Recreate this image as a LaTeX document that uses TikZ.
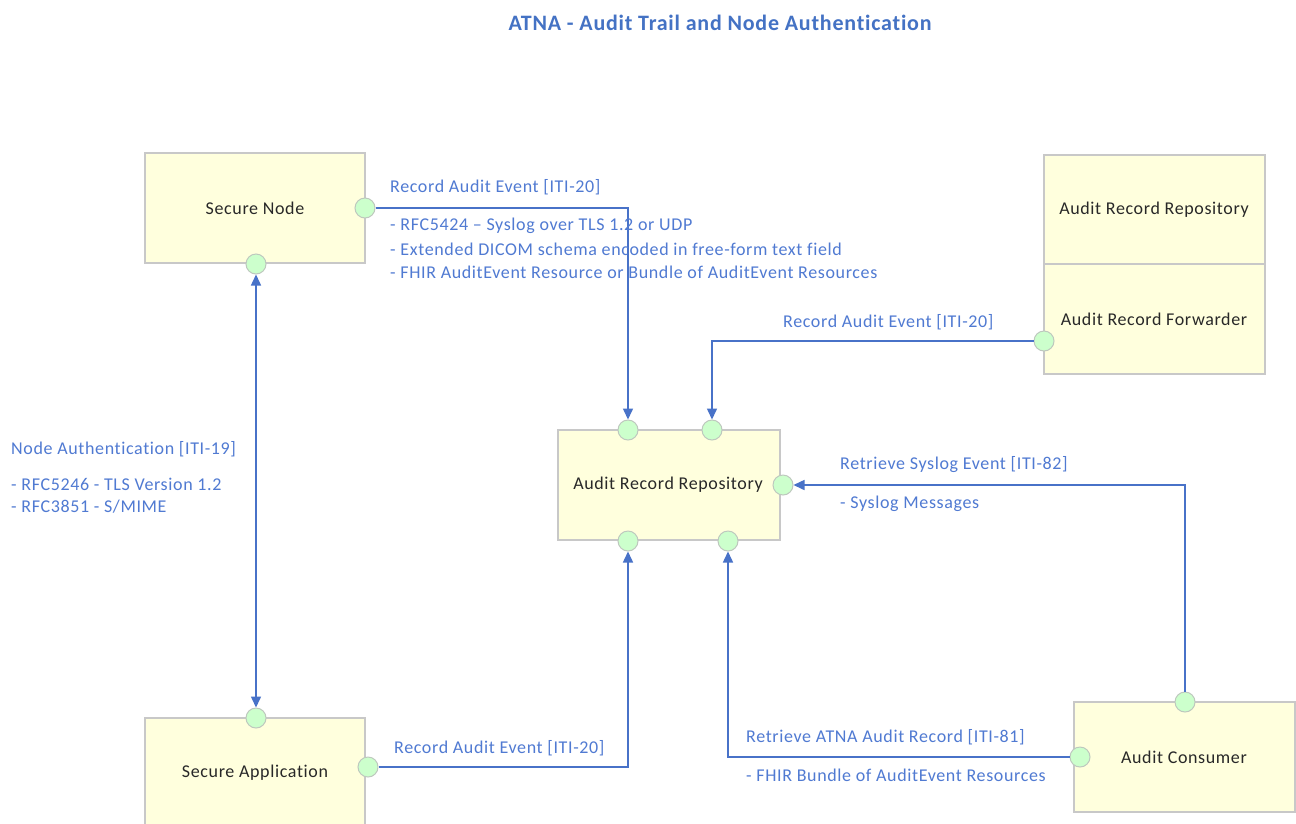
\documentclass[tikz,border=0pt]{standalone}
\usepackage{fontspec}
\setmainfont{Carlito}[LetterSpace=3.5, Ligatures={NoCommon}]
\usetikzlibrary{arrows.meta}
\definecolor{boxfill}{RGB}{255,255,221}
\definecolor{boxline}{RGB}{200,200,200}
\definecolor{portfill}{RGB}{204,255,204}
\definecolor{portline}{RGB}{190,200,190}
\definecolor{wire}{RGB}{72,114,200}
\definecolor{lbl}{RGB}{80,122,210}
\definecolor{titleblue}{RGB}{68,114,196}
\definecolor{boxtext}{RGB}{40,40,40}
\tikzset{
  box/.style={draw=boxline, line width=1.2pt, fill=boxfill},
  boxlabel/.style={text=boxtext, font=\fontsize{18}{21}\selectfont},
  port/.style={circle, draw=portline, line width=1pt, fill=portfill, minimum size=20pt, inner sep=0pt},
  wireline/.style={draw=wire, line width=1.5pt, -{Triangle[length=11pt,width=10pt]}},
  lab/.style={anchor=west, text=lbl, font=\fontsize{18}{21}\selectfont, inner sep=0pt}
}
\begin{document}
\begin{tikzpicture}[x=1pt,y=-1pt]
\useasboundingbox (0,0) rectangle (1296,823);
\clip (0,0) rectangle (1296,823);
\fill[white] (0,0) rectangle (1296,823);
% title
\node[text=titleblue, font=\bfseries\fontsize{22}{26}\selectfont] (title) at (720,23) {ATNA - Audit Trail and Node Authentication};
% boxes
\path[box] (145,153) rectangle (365,263);
\node[boxlabel] (sn) at (255,208) {Secure Node};
\path[box] (145,718) rectangle (365,840);
\node[boxlabel] (sa) at (255,773) {Secure Application};
\path[box] (558,430) rectangle (780,540);
\node[boxlabel] (arr) at (668,485) {Audit Record Repository};
\path[box] (1044,155) rectangle (1265,264);
\node[boxlabel] (rarr) at (1154,210) {Audit Record Repository};
\path[box] (1044,264) rectangle (1265,374);
\node[boxlabel] (fwd) at (1154,319) {Audit Record Forwarder};
\path[box] (1074,702) rectangle (1295,812);
\node[boxlabel] (ac) at (1184,757) {Audit Consumer};
% ports
\node[port] (snr) at (365,208) {};
\node[port] (snb) at (256,264) {};
\node[port] (sat) at (256,718) {};
\node[port] (sar) at (368,767) {};
\node[port] (arrt1) at (628,430) {};
\node[port] (arrt2) at (712,430) {};
\node[port] (arrr) at (783,485) {};
\node[port] (arrb1) at (628,541) {};
\node[port] (arrb2) at (728,541) {};
\node[port] (fwdp) at (1044,341) {};
\node[port] (act) at (1185,702) {};
\node[port] (acl) at (1080,757) {};
% connectors
\draw[wireline] (snr) -| (arrt1);
\draw[wireline] (fwdp) -| (arrt2);
\draw[wireline, {Triangle[length=11pt,width=10pt]}-{Triangle[length=11pt,width=10pt]}] (snb) -- (sat);
\draw[wireline] (sar) -| (arrb1);
\draw[wireline] (acl) -| (arrb2);
\draw[wireline] (act) |- (arrr);
% labels
\node[lab] (l1) at (390,187) {Record Audit Event [ITI-20]};
\node[lab] (l1a) at (390,226) {- RFC5424 – Syslog over TLS 1.2 or UDP};
\node[lab] (l1b) at (390,249) {- Extended DICOM schema encoded in free-form text field};
\node[lab] (l1c) at (390,272) {- FHIR AuditEvent Resource or Bundle of AuditEvent Resources};
\node[lab] (l2) at (783,322) {Record Audit Event [ITI-20]};
\node[lab] (l3) at (11,449) {Node Authentication [ITI-19]};
\node[lab] (l3a) at (11,484) {- RFC5246 - TLS Version 1.2};
\node[lab] (l3b) at (11,507) {- RFC3851 - S/MIME};
\node[lab] (l4) at (840,465) {Retrieve Syslog Event [ITI-82]};
\node[lab] (l4a) at (840,504) {- Syslog Messages};
\node[lab] (l5) at (394,748) {Record Audit Event [ITI-20]};
\node[lab] (l6) at (746,737) {Retrieve ATNA Audit Record [ITI-81]};
\node[lab] (l6a) at (746,775) {- FHIR Bundle of AuditEvent Resources};
\end{tikzpicture}
\end{document}
